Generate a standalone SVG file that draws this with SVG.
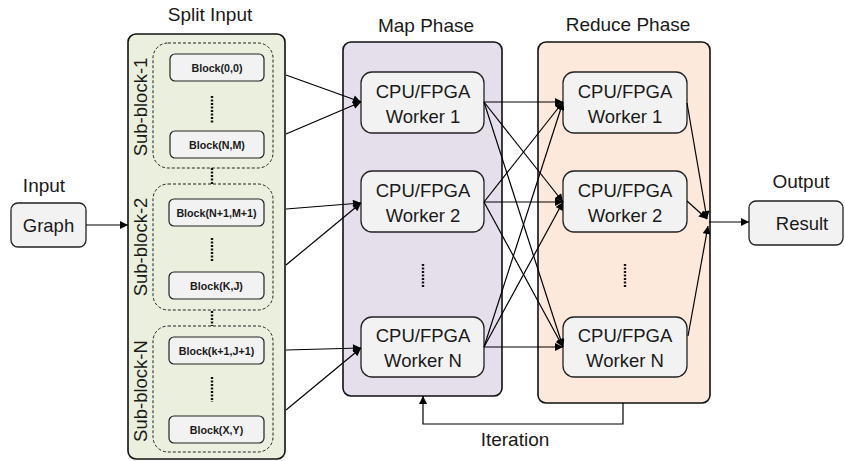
<svg xmlns="http://www.w3.org/2000/svg" width="845" height="461" viewBox="0 0 845 461">
<defs>
<marker id="ah" viewBox="0 0 10 10" refX="10" refY="5" markerWidth="9" markerHeight="8" markerUnits="userSpaceOnUse" orient="auto">
<path d="M0,0 L10,5 L0,10 z" fill="#000"/>
</marker>
</defs>
<style>
text{font-family:"Liberation Sans",Arial,sans-serif;fill:#1a1a1a;}
.title{font-size:19px;}
.wt{font-size:18.5px;text-anchor:middle;}
.blk{font-size:10.7px;font-weight:bold;text-anchor:middle;}
.sub{font-size:18.5px;text-anchor:middle;}
.worker{fill:#f2f2f2;stroke:#222;stroke-width:1.3;}
.block{fill:#f2f2f2;stroke:#222;stroke-width:1.2;}
.dash{fill:none;stroke:#222;stroke-width:1;stroke-dasharray:3,2;}
.dots{stroke:#111;stroke-width:2.4;stroke-dasharray:2,1.5;}
.ln{stroke:#000;stroke-width:1.2;fill:none;}
.arr{stroke:#000;stroke-width:1.2;fill:none;marker-end:url(#ah);}
</style>
<rect width="845" height="461" fill="#fff"/>

<!-- Containers -->
<g id="split-input">
<rect x="128" y="34" width="157" height="425" rx="8" fill="#ebf0de" stroke="#111" stroke-width="1.6"/>
<text class="title" x="210" y="21" text-anchor="middle">Split Input</text>
</g>
<g id="map-phase">
<rect x="343" y="42" width="159" height="354" rx="8" fill="#e5dfec" stroke="#111" stroke-width="1.6"/>
<text class="title" x="426" y="32" text-anchor="middle">Map Phase</text>
<line class="dots" x1="423" y1="264" x2="423" y2="288"/>
</g>
<g id="reduce-phase">
<rect x="538" y="42" width="172" height="361" rx="8" fill="#fde9db" stroke="#111" stroke-width="1.6"/>
<text class="title" x="628" y="31" text-anchor="middle">Reduce Phase</text>
<line class="dots" x1="625" y1="264" x2="625" y2="288"/>
</g>

<!-- Sub-blocks -->
<g id="sub-block-1">
<rect class="dash" x="153" y="43" width="120" height="125" rx="15"/>
<text class="sub" transform="translate(147,107) rotate(-90)">Sub-block-1</text>
<line class="dots" x1="212" y1="96" x2="212" y2="123"/>
</g>
<g id="sub-block-2">
<rect class="dash" x="153" y="184" width="120" height="126" rx="15"/>
<text class="sub" transform="translate(147,247) rotate(-90)">Sub-block-2</text>
<line class="dots" x1="212" y1="238" x2="212" y2="262"/>
</g>
<g id="sub-block-n">
<rect class="dash" x="153" y="326" width="120" height="126" rx="15"/>
<text class="sub" transform="translate(147,391) rotate(-90)">Sub-block-N</text>
<line class="dots" x1="212" y1="377" x2="212" y2="402"/>
</g>
<g id="sub-block-gaps">
<line class="dots" x1="212" y1="168" x2="212" y2="184"/>
<line class="dots" x1="212" y1="311" x2="212" y2="326"/>
</g>

<!-- Blocks -->
<g id="block-0-0"><rect class="block" x="170" y="54" width="94" height="27" rx="5"/><text class="blk" x="217" y="71.5">Block(0,0)</text></g>
<g id="block-n-m"><rect class="block" x="170" y="131" width="94" height="27" rx="5"/><text class="blk" x="217" y="148.5">Block(N,M)</text></g>
<g id="block-n1-m1"><rect class="block" x="169" y="199" width="95" height="27" rx="5"/><text class="blk" x="216.5" y="216.5">Block(N+1,M+1)</text></g>
<g id="block-k-j"><rect class="block" x="169" y="272" width="95" height="27" rx="5"/><text class="blk" x="216.5" y="289.5">Block(K,J)</text></g>
<g id="block-k1-j1"><rect class="block" x="169" y="337" width="95" height="27" rx="5"/><text class="blk" x="216.5" y="354.5">Block(k+1,J+1)</text></g>
<g id="block-x-y"><rect class="block" x="169" y="416" width="95" height="27" rx="5"/><text class="blk" x="216.5" y="433.5">Block(X,Y)</text></g>

<!-- Input / Output -->
<g id="input">
<text class="title" x="44" y="192" text-anchor="middle">Input</text>
<rect class="worker" x="11" y="203" width="75" height="44" rx="7"/>
<text class="wt" x="48.5" y="232">Graph</text>
</g>
<g id="output">
<text class="title" x="801" y="188" text-anchor="middle">Output</text>
<rect class="worker" x="749" y="201" width="94" height="44" rx="7"/>
<text class="wt" x="802" y="230">Result</text>
</g>

<!-- Map workers -->
<g id="map-worker-1"><rect class="worker" x="361" y="72" width="123" height="61" rx="11"/><text class="wt" x="423" y="98">CPU/FPGA</text><text class="wt" x="423" y="123">Worker 1</text></g>
<g id="map-worker-2"><rect class="worker" x="361" y="171" width="123" height="61" rx="11"/><text class="wt" x="423" y="197">CPU/FPGA</text><text class="wt" x="423" y="222">Worker 2</text></g>
<g id="map-worker-n"><rect class="worker" x="361" y="317" width="123" height="60" rx="11"/><text class="wt" x="423" y="342">CPU/FPGA</text><text class="wt" x="423" y="367">Worker N</text></g>

<!-- Reduce workers -->
<g id="reduce-worker-1"><rect class="worker" x="563" y="72" width="124" height="61" rx="11"/><text class="wt" x="625" y="98">CPU/FPGA</text><text class="wt" x="625" y="123">Worker 1</text></g>
<g id="reduce-worker-2"><rect class="worker" x="563" y="171" width="124" height="61" rx="11"/><text class="wt" x="625" y="197">CPU/FPGA</text><text class="wt" x="625" y="222">Worker 2</text></g>
<g id="reduce-worker-n"><rect class="worker" x="563" y="317" width="124" height="60" rx="11"/><text class="wt" x="625" y="342">CPU/FPGA</text><text class="wt" x="625" y="367">Worker N</text></g>

<!-- Connectors -->
<g id="connectors">
<line class="arr" x1="86" y1="225" x2="128" y2="225"/>
<line class="arr" x1="286" y1="75" x2="361" y2="102"/>
<line class="arr" x1="286" y1="134" x2="361" y2="102"/>
<line class="arr" x1="286" y1="209" x2="361" y2="203"/>
<line class="arr" x1="286" y1="265" x2="361" y2="203"/>
<line class="arr" x1="286" y1="350" x2="361" y2="348"/>
<line class="arr" x1="286" y1="410" x2="361" y2="348"/>

<line class="arr" x1="484" y1="102" x2="563" y2="102"/>
<line class="arr" x1="484" y1="102" x2="563" y2="202"/>
<line class="arr" x1="484" y1="102" x2="563" y2="347"/>
<line class="arr" x1="484" y1="202" x2="563" y2="102"/>
<line class="arr" x1="484" y1="202" x2="563" y2="202"/>
<line class="arr" x1="484" y1="202" x2="563" y2="347"/>
<line class="arr" x1="484" y1="347" x2="563" y2="102"/>
<line class="arr" x1="484" y1="347" x2="563" y2="202"/>
<line class="arr" x1="484" y1="347" x2="563" y2="347"/>

<line class="arr" x1="687" y1="103" x2="707" y2="219"/>
<line class="arr" x1="687" y1="201" x2="707" y2="219"/>
<line class="arr" x1="688" y1="336" x2="708" y2="226"/>
<line class="arr" x1="709" y1="222" x2="749" y2="222"/>

<polyline class="arr" points="623,403 623,424 423,424 423,396"/>
<text class="title" x="515" y="446" text-anchor="middle">Iteration</text>
</g>
</svg>
